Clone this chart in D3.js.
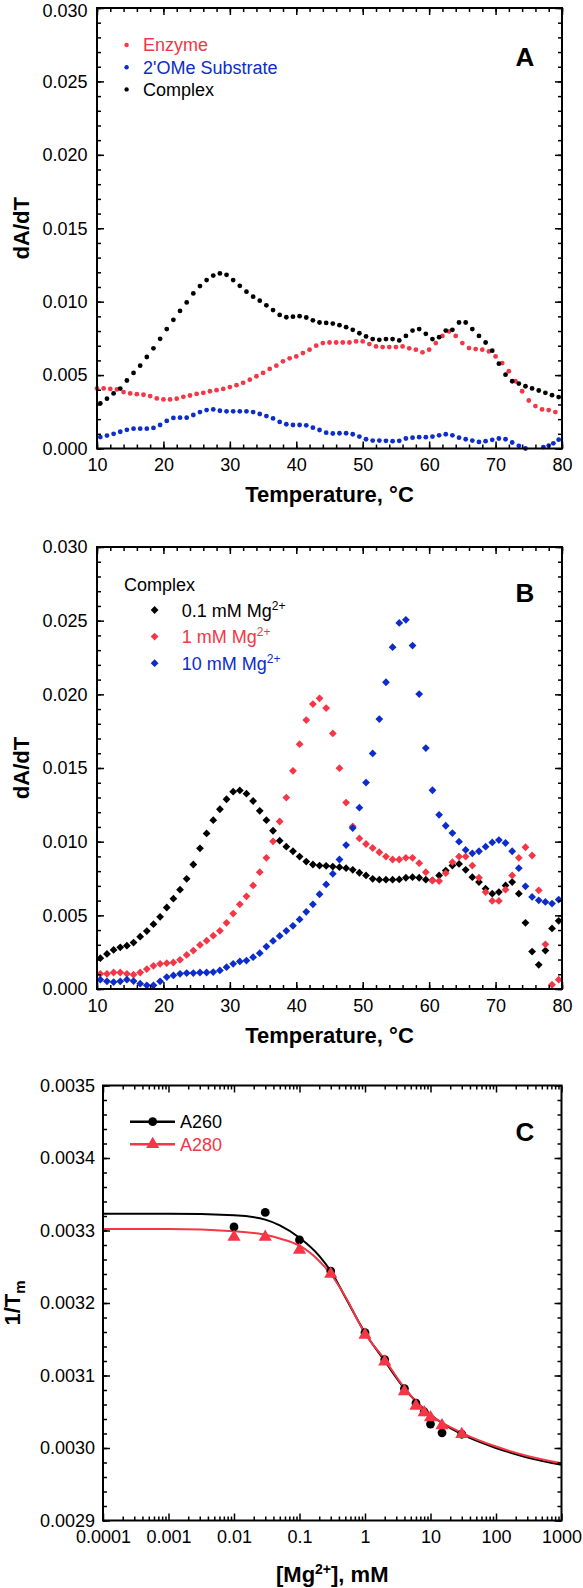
<!DOCTYPE html>
<html><head><meta charset="utf-8">
<script src="https://cdn.jsdelivr.net/npm/d3@7"></script>
<style>
body{margin:0;background:#fff}
svg{display:block}
text{font-family:"Liberation Sans",Arial,Helvetica,sans-serif}
</style>
</head><body>
<svg id="c" width="583" height="1588"></svg>
<script>
// ---------------- DATA ----------------
// Panel A
const tempsA_complex = [10.5,11.5,12.5,13.5,14.5,15.5,16.5,17.5,18.5,19.5,20.5,21.5,22.5,23.5,24.5,25.5,26.5,27.5,28.5,29.5,30.5,31.5,32.5,33.5,34.5,35.5,36.5,37.5,38.5,39.5,40.5,41.5,42.5,43.5,44.5,45.5,46.5,47.5,48.5,49.5,50.5,51.5,52.5,53.5,54.5,55.5,56.5,57.5,58.5,59.5,60.5,61.5,62.5,63.5,64.5,65.5,66.5,67.5,68.5,69.5,70.5,71.5,72.5,73.5,74.5,75.5,76.5,77.5,78.5,79.5];
const complexA = [0.00307,0.00339,0.00375,0.00408,0.00463,0.00515,0.00564,0.00623,0.00682,0.00747,
0.00813,0.00876,0.00937,0.00995,0.01056,0.01106,0.01147,0.01178,0.01192,0.01183,
0.01147,0.01108,0.01068,0.01034,0.01007,0.00975,0.00943,0.00910,0.00894,0.00898,
0.00901,0.00892,0.00873,0.00858,0.00855,0.00851,0.00840,0.00826,0.00808,0.00785,
0.00763,0.00745,0.00740,0.00745,0.00745,0.00736,0.00767,0.00803,0.00813,0.00781,
0.00745,0.00758,0.00803,0.00808,0.00858,0.00858,0.00813,0.00767,0.00722,0.00666,
0.00578,0.00503,0.00458,0.00442,0.00424,0.00409,0.00395,0.00379,0.00363,0.00350];
const tempsA_enzyme = [10,11,12,13,14,15,16,17,18,19,20,21,22,23,24,25,26,27,28,29,30,31,32,33,34,35,36,37,38,39,40,41,42,43,44,45,46,47,48,49,50,51,52,53,54,55,56,57,58,59,60,61,62,63,64,65,66,67,68,69,70,71,72,73,74,75,76,77,78,79];
const enzymeA = [0.00409,0.00409,0.00406,0.00402,0.00384,0.00375,0.00370,0.00366,0.00357,0.00341,
0.00334,0.00334,0.00339,0.00352,0.00361,0.00372,0.00379,0.00390,0.00397,0.00406,
0.00418,0.00431,0.00447,0.00469,0.00492,0.00515,0.00542,0.00564,0.00594,0.00614,
0.00627,0.00650,0.00673,0.00700,0.00718,0.00722,0.00722,0.00722,0.00722,0.00729,
0.00729,0.00711,0.00695,0.00691,0.00691,0.00691,0.00695,0.00682,0.00673,0.00655,
0.00673,0.00718,0.00767,0.00797,0.00767,0.00718,0.00684,0.00677,0.00673,0.00661,
0.00627,0.00582,0.00526,0.00458,0.00390,0.00327,0.00289,0.00266,0.00262,0.00248];
const tempsA_substrate = [10.5,11.5,12.5,13.5,14.5,15.5,16.5,17.5,18.5,19.5,20.5,21.5,22.5,23.5,24.5,25.5,26.5,27.5,28.5,29.5,30.5,31.5,32.5,33.5,34.5,35.5,36.5,37.5,38.5,39.5,40.5,41.5,42.5,43.5,44.5,45.5,46.5,47.5,48.5,49.5,50.5,51.5,52.5,53.5,54.5,55.5,56.5,57.5,58.5,59.5,60.5,61.5,62.5,63.5,64.5,65.5,66.5,67.5,68.5,69.5,70.5,71.5,72.5,73.5,74.5,77.2,78.0,78.7,79.5];
const substrateA = [0.00078,0.00088,0.00100,0.00114,0.00127,0.00135,0.00135,0.00135,0.00140,0.00160,
0.00188,0.00208,0.00210,0.00210,0.00228,0.00248,0.00262,0.00266,0.00257,0.00253,
0.00253,0.00253,0.00253,0.00248,0.00235,0.00221,0.00205,0.00181,0.00165,0.00160,
0.00160,0.00158,0.00142,0.00126,0.00108,0.00102,0.00104,0.00104,0.00097,0.00081,
0.00063,0.00054,0.00054,0.00052,0.00050,0.00052,0.00068,0.00074,0.00077,0.00077,
0.00081,0.00090,0.00097,0.00090,0.00074,0.00063,0.00054,0.00045,0.00050,0.00059,
0.00068,0.00063,0.00041,0.00018,0.00000,
0.00010,0.00020,0.00035,0.00060];

// Panel B
const tempsB = [10.5,11.5,12.5,13.5,14.5,15.5,16.5,17.5,18.5,19.5,20.5,21.5,22.5,23.5,24.5,25.5,26.5,27.5,28.5,29.5,30.5,31.5,32.5,33.5,34.5,35.5,36.5,37.5,38.5,39.5,40.5,41.5,42.5,43.5,44.5,45.5,46.5,47.5,48.5,49.5,50.5,51.5,52.5,53.5,54.5,55.5,56.5,57.5,58.5,59.5,60.5,61.5,62.5,63.5,64.5,65.5,66.5,67.5,68.5,69.5,70.5,71.5,72.5,73.5,74.5,75.5,76.5,77.5,78.5,79.5];
const mg01B = [0.00209,0.00238,0.00265,0.00283,0.00294,0.00315,0.00355,0.00393,0.00440,0.00490,
0.00553,0.00613,0.00674,0.00748,0.00845,0.00955,0.01056,0.01146,0.01220,0.01288,
0.01339,0.01348,0.01326,0.01276,0.01209,0.01146,0.01074,0.01007,0.00966,0.00935,
0.00899,0.00865,0.00845,0.00838,0.00836,0.00831,0.00827,0.00820,0.00809,0.00789,
0.00771,0.00748,0.00742,0.00742,0.00742,0.00744,0.00755,0.00759,0.00755,0.00742,
0.00737,0.00771,0.00804,0.00838,0.00849,0.00809,0.00759,0.00726,0.00681,0.00647,
0.00658,0.00703,0.00726,0.00647,0.00449,0.00254,0.00164,0.00261,0.00411,0.00463];
const mg1B = [0.00103,0.00103,0.00112,0.00112,0.00103,0.00097,0.00112,0.00135,0.00157,0.00171,
0.00175,0.00180,0.00198,0.00231,0.00261,0.00299,0.00328,0.00362,0.00395,0.00449,
0.00512,0.00575,0.00629,0.00703,0.00793,0.00890,0.01002,0.01137,0.01299,0.01481,
0.01662,0.01825,0.01934,0.01973,0.01907,0.01735,0.01499,0.01265,0.01103,0.01022,
0.00984,0.00957,0.00928,0.00899,0.00879,0.00879,0.00890,0.00890,0.00854,0.00793,
0.00737,0.00733,0.00786,0.00861,0.00899,0.00899,0.00838,0.00755,0.00658,0.00598,
0.00598,0.00674,0.00771,0.00890,0.00962,0.00906,0.00670,0.00303,0.00029,0.00063];
const mg10B = [0.00063,0.00052,0.00047,0.00052,0.00063,0.00054,0.00036,0.00025,0.00025,0.00052,
0.00081,0.00092,0.00103,0.00108,0.00108,0.00112,0.00112,0.00115,0.00126,0.00148,
0.00171,0.00187,0.00193,0.00216,0.00243,0.00288,0.00326,0.00360,0.00395,0.00429,
0.00472,0.00524,0.00575,0.00643,0.00710,0.00782,0.00879,0.00977,0.01092,0.01231,
0.01401,0.01599,0.01832,0.02082,0.02320,0.02485,0.02506,0.02331,0.02002,0.01635,
0.01349,0.01182,0.01108,0.01058,0.01000,0.00944,0.00921,0.00935,0.00966,0.00995,
0.01011,0.00991,0.00935,0.00820,0.00697,0.00625,0.00602,0.00591,0.00580,0.00607];

// Panel C
const mgConc = [0.01,0.03,0.1,0.3,1,2,4,6,8,10,15,30];
const invTmA260 = [0.003305,0.003325,0.003287,0.003244,0.003159,0.003122,0.003082,0.003062,0.003050,0.003033,0.003021,0.003019];
const invTmA280 = [0.003291,0.003291,0.003273,0.003240,0.003156,0.003119,0.003078,0.003058,0.003049,0.003042,0.003031,0.003019];
const fitConc = [0.0001,0.001,0.01,0.03,0.05,0.1,0.2,0.3,0.5,1,2,4,10,30,100,300,1000];
const fitA260 = [0.003323,0.003323,0.003321,0.003315,0.003307,0.003290,0.003265,0.003244,0.003208,0.003159,0.003120,0.003082,0.003046,0.003019,0.003000,0.002987,0.002977];
const fitA280 = [0.003302,0.003302,0.003299,0.003294,0.003289,0.003279,0.003258,0.003240,0.003209,0.003158,0.003122,0.003083,0.003046,0.003021,0.003002,0.002989,0.002979];

// tick values
const tempTicks = [10,20,30,40,50,60,70,80];
const tempMinor = d3.range(10,80.01,2);
const dAdTTicks = [0,0.005,0.010,0.015,0.020,0.025,0.030];
const dAdTMinor = d3.range(0,0.03001,0.001);
const concTicks = [0.0001,0.001,0.01,0.1,1,10,100,1000];
const invTmTicks = [0.0029,0.0030,0.0031,0.0032,0.0033,0.0034,0.0035];
const invTmMinor = d3.range(0.0029,0.003501,0.00002);

// ---------------- DRAW ----------------
const RED = "#f43646", BLUE = "#0c2ccc", BLACK = "#000";
const svg = d3.select("#c");

function axes(g, x, y, w, h, xMaj, xMin, yMaj, yMin, xFmt, yFmt, yPad) {
  const style = sel => {
    sel.select(".domain").remove();
    sel.selectAll("line").attr("stroke", "#000").attr("stroke-width", 1.5);
    sel.selectAll("text").attr("font-size", 18).attr("fill", "#000")
       .attr("font-family", '"Liberation Sans",Arial,Helvetica,sans-serif');
  };
  g.append("g").attr("transform", `translate(0,${h})`)
    .call(d3.axisBottom(x).tickValues(xMin).tickSize(-4).tickFormat("")).call(style);
  g.append("g").attr("transform", `translate(0,${h})`)
    .call(d3.axisBottom(x).tickValues(xMaj).tickSize(-7).tickPadding(10).tickFormat(xFmt)).call(style);
  g.append("g")
    .call(d3.axisTop(x).tickValues(xMin).tickSize(-4).tickFormat("")).call(style);
  g.append("g")
    .call(d3.axisTop(x).tickValues(xMaj).tickSize(-7).tickFormat("")).call(style);
  g.append("g")
    .call(d3.axisLeft(y).tickValues(yMin).tickSize(-4).tickFormat("")).call(style);
  const yl = g.append("g")
    .call(d3.axisLeft(y).tickValues(yMaj).tickSize(-7).tickPadding(yPad).tickFormat(yFmt)).call(style);
  g.append("g").attr("transform", `translate(${w},0)`)
    .call(d3.axisRight(y).tickValues(yMin).tickSize(-4).tickFormat("")).call(style);
  g.append("g").attr("transform", `translate(${w},0)`)
    .call(d3.axisRight(y).tickValues(yMaj).tickSize(-7).tickFormat("")).call(style);
  g.append("rect").attr("x", 0).attr("y", 0).attr("width", w).attr("height", h)
    .attr("fill", "none").attr("stroke", "#000").attr("stroke-width", 2);
  return yl;
}

const diamond = r => `M0,${-r}L${r},0L0,${r}L${-r},0Z`;
const fmt3 = d3.format(".3f");
const fmt4 = d3.format(".4f");

// ----- Panel A -----
{
  const L = 97, R = 562, T = 8, B = 448.5, w = R - L, h = B - T;
  const g = svg.append("g").attr("transform", `translate(${L},${T})`);
  const x = d3.scaleLinear().domain([10, 80]).range([0, w]);
  const y = d3.scaleLinear().domain([0, 0.03]).range([h, 0]);
  const series = [
    {t: tempsA_enzyme, v: enzymeA, c: RED},
    {t: tempsA_substrate, v: substrateA, c: BLUE},
    {t: tempsA_complex, v: complexA, c: BLACK}
  ];
  series.forEach(s => {
    g.append("g").selectAll("circle").data(s.v).join("circle")
      .attr("cx", (d, i) => x(s.t[i])).attr("cy", d => y(d)).attr("r", 2.4).attr("fill", s.c);
  });
  const yl = axes(g, x, y, w, h, tempTicks, tempMinor, dAdTTicks, dAdTMinor, d3.format("d"), fmt3, 9.5);
  // keep the topmost tick label inside the page
  yl.selectAll(".tick").filter(d => d === 0.03).select("text").attr("dy", "0.46em");
  // legend
  const leg = [["Enzyme", RED], ["2'OMe Substrate", BLUE], ["Complex", BLACK]];
  leg.forEach((d, i) => {
    const yy = 45 + i * 22.2 - T;
    g.append("circle").attr("cx", 126.6 - L).attr("cy", yy).attr("r", 2.2).attr("fill", d[1]);
    g.append("text").attr("x", 143 - L).attr("y", yy + 6.3).attr("font-size", 18).attr("fill", d[1]).text(d[0]);
  });
  g.append("text").attr("x", 525 - L).attr("y", 66 - T).attr("text-anchor", "middle")
    .attr("font-size", 26).attr("font-weight", "bold").text("A");
  svg.append("text").attr("x", (L + R) / 2).attr("y", 502).attr("text-anchor", "middle")
    .attr("font-size", 22).attr("font-weight", "bold").text("Temperature, °C");
  svg.append("text").attr("transform", `translate(29,${(T + B) / 2}) rotate(-90)`)
    .attr("text-anchor", "middle").attr("font-size", 22).attr("font-weight", "bold").text("dA/dT");
}

// ----- Panel B -----
{
  const L = 97, R = 562, T = 547, B = 989, w = R - L, h = B - T;
  const g = svg.append("g").attr("transform", `translate(${L},${T})`);
  const x = d3.scaleLinear().domain([10, 80]).range([0, w]);
  const y = d3.scaleLinear().domain([0, 0.03]).range([h, 0]);
  const series = [
    {v: mg01B, c: BLACK},
    {v: mg1B, c: RED},
    {v: mg10B, c: BLUE}
  ];
  series.forEach(s => {
    g.append("g").selectAll("path").data(s.v).join("path")
      .attr("transform", (d, i) => `translate(${x(tempsB[i])},${y(d)})`)
      .attr("d", diamond(3.9)).attr("fill", s.c);
  });
  axes(g, x, y, w, h, tempTicks, tempMinor, dAdTTicks, dAdTMinor, d3.format("d"), fmt3, 9.5);
  g.append("text").attr("x", 124 - L).attr("y", 590.5 - T).attr("font-size", 18).text("Complex");
  const leg = [["0.1", BLACK], ["1", RED], ["10", BLUE]];
  leg.forEach((d, i) => {
    const yy = 610 + i * 26.6 - T;
    g.append("path").attr("transform", `translate(${154.6 - L},${yy})`).attr("d", diamond(3.9)).attr("fill", d[1]);
    const t = g.append("text").attr("x", 181.8 - L).attr("y", yy + 6.5).attr("font-size", 18).attr("fill", d[1]);
    t.append("tspan").text(d[0] + " mM Mg");
    t.append("tspan").attr("dy", -7).attr("font-size", 12).text("2+");
  });
  g.append("text").attr("x", 525 - L).attr("y", 601.5 - T).attr("text-anchor", "middle")
    .attr("font-size", 26).attr("font-weight", "bold").text("B");
  svg.append("text").attr("x", (L + R) / 2).attr("y", 1043).attr("text-anchor", "middle")
    .attr("font-size", 22).attr("font-weight", "bold").text("Temperature, °C");
  svg.append("text").attr("transform", `translate(29,${(T + B) / 2}) rotate(-90)`)
    .attr("text-anchor", "middle").attr("font-size", 22).attr("font-weight", "bold").text("dA/dT");
}

// ----- Panel C -----
{
  const L = 103, R = 561.5, T = 1085.5, B = 1520.5, w = R - L, h = B - T;
  const g = svg.append("g").attr("transform", `translate(${L},${T})`);
  const x = d3.scaleLog().domain([0.0001, 1000]).range([0, w]);
  const y = d3.scaleLinear().domain([0.0029, 0.0035]).range([h, 0]);
  const minorC = [];
  concTicks.slice(0, -1).forEach(dec => { for (let k = 2; k <= 9; k++) minorC.push(dec * k); });
  const line = d3.line().x((d, i) => x(fitConc[i])).y(d => y(d)).curve(d3.curveMonotoneX);
  g.append("path").datum(fitA260).attr("d", line).attr("fill", "none").attr("stroke", BLACK).attr("stroke-width", 2);
  g.append("path").datum(fitA280).attr("d", line).attr("fill", "none").attr("stroke", RED).attr("stroke-width", 2);
  g.append("g").selectAll("circle").data(invTmA260).join("circle")
    .attr("cx", (d, i) => x(mgConc[i])).attr("cy", d => y(d)).attr("r", 4.4).attr("fill", BLACK);
  const tri = d3.symbol(d3.symbolTriangle, 75);
  g.append("g").selectAll("path").data(invTmA280).join("path")
    .attr("transform", (d, i) => `translate(${x(mgConc[i])},${y(d)})`).attr("d", tri).attr("fill", RED);
  const cFmt = d => (d >= 1 ? d3.format("d")(d) : String(+d.toPrecision(1)));
  axes(g, x, y, w, h, concTicks, minorC, invTmTicks, invTmMinor, cFmt, fmt4, 8);
  // legend
  const leg = [["A260", BLACK, "c"], ["A280", RED, "t"]];
  leg.forEach((d, i) => {
    const yy = 1121.7 + i * 22.6 - T;
    g.append("line").attr("x1", 130 - L).attr("x2", 175 - L).attr("y1", yy).attr("y2", yy)
      .attr("stroke", d[1]).attr("stroke-width", 2.5);
    if (d[2] === "c") g.append("circle").attr("cx", 152.7 - L).attr("cy", yy).attr("r", 4.4).attr("fill", d[1]);
    else g.append("path").attr("transform", `translate(${152.7 - L},${yy})`).attr("d", tri).attr("fill", d[1]);
    g.append("text").attr("x", 180 - L).attr("y", yy + 6.5).attr("font-size", 18).attr("fill", d[1]).text(d[0]);
  });
  g.append("text").attr("x", 525 - L).attr("y", 1140.5 - T).attr("text-anchor", "middle")
    .attr("font-size", 26).attr("font-weight", "bold").text("C");
  const xt = svg.append("text").attr("x", (L + R) / 2).attr("y", 1582).attr("text-anchor", "middle")
    .attr("font-size", 22).attr("font-weight", "bold");
  xt.append("tspan").text("[Mg");
  xt.append("tspan").attr("dy", -8).attr("font-size", 14).text("2+");
  xt.append("tspan").attr("dy", 8).text("], mM");
  const yt = svg.append("text").attr("transform", `translate(20,${(T + B) / 2}) rotate(-90)`)
    .attr("text-anchor", "middle").attr("font-size", 22).attr("font-weight", "bold");
  yt.append("tspan").text("1/T");
  yt.append("tspan").attr("dy", 5).attr("font-size", 15).text("m");
}
</script>
</body></html>
